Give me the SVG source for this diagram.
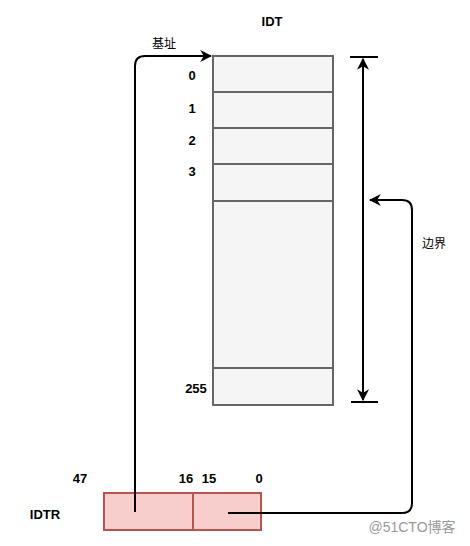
<svg xmlns="http://www.w3.org/2000/svg" width="470" height="546" viewBox="0 0 470 546">
<style>
.cell{fill:#f5f5f5;stroke:#666666;stroke-width:2}
.reg{fill:#f8cecc;stroke:#b85450;stroke-width:2}
.lbl{font-family:"Liberation Sans","Noto Sans CJK SC",sans-serif;font-size:13px;font-weight:bold;fill:#000}
.cjk{font-family:"Noto Sans CJK SC",sans-serif;font-size:12px;fill:#000}
.wire{fill:none;stroke:#000;stroke-width:2}
</style>
<defs>
<marker id="ah" viewBox="0 0 10 10" refX="9" refY="5" markerWidth="6" markerHeight="6" orient="auto-start-reverse" markerUnits="strokeWidth">
<path d="M0,0 L10,5 L0,10 L3,5 Z" fill="#000"/>
</marker>
</defs>
<rect width="470" height="546" fill="#fff"/>
<text class="lbl" x="272" y="26" text-anchor="middle">IDT</text>
<g id="idt">
<rect class="cell" x="213" y="56" width="120" height="36"/>
<rect class="cell" x="213" y="92" width="120" height="36"/>
<rect class="cell" x="213" y="128" width="120" height="36"/>
<rect class="cell" x="213" y="164" width="120" height="37"/>
<rect class="cell" x="213" y="201" width="120" height="167"/>
<rect class="cell" x="213" y="368" width="120" height="37"/>
</g>
<g id="idt-labels">
<text class="lbl" x="192" y="80" text-anchor="middle">0</text>
<text class="lbl" x="192" y="113" text-anchor="middle">1</text>
<text class="lbl" x="192" y="145" text-anchor="middle">2</text>
<text class="lbl" x="192" y="176" text-anchor="middle">3</text>
<text class="lbl" x="196" y="393" text-anchor="middle">255</text>
</g>
<g id="idtr">
<rect class="reg" x="104" y="493" width="89" height="37"/>
<rect class="reg" x="193" y="493" width="68" height="37"/>
<text class="lbl" x="45" y="519" text-anchor="middle">IDTR</text>
<text class="lbl" x="80" y="483" text-anchor="middle">47</text>
<text class="lbl" x="186" y="483" text-anchor="middle">16</text>
<text class="lbl" x="209" y="483" text-anchor="middle">15</text>
<text class="lbl" x="259" y="483" text-anchor="middle">0</text>
</g>
<g id="connectors">
<path class="wire" d="M135,512 V66 Q135,56 145,56 H211" marker-end="url(#ah)"/>
<path class="wire" d="M228,513 H402 Q412,513 412,503 V210 Q412,200 402,200 H370" marker-end="url(#ah)"/>
<path class="wire" d="M350,57 H378 M351,402 H378"/>
<path class="wire" d="M363,59 V400" marker-start="url(#ah)" marker-end="url(#ah)"/>
</g>
<text class="cjk" x="164" y="48" text-anchor="middle">基址</text>
<text class="cjk" x="434" y="248" text-anchor="middle">边界</text>
<text x="412" y="532" text-anchor="middle" font-family="Liberation Sans,Noto Sans CJK SC,sans-serif" font-size="14" fill="#999">@51CTO博客</text>
</svg>
